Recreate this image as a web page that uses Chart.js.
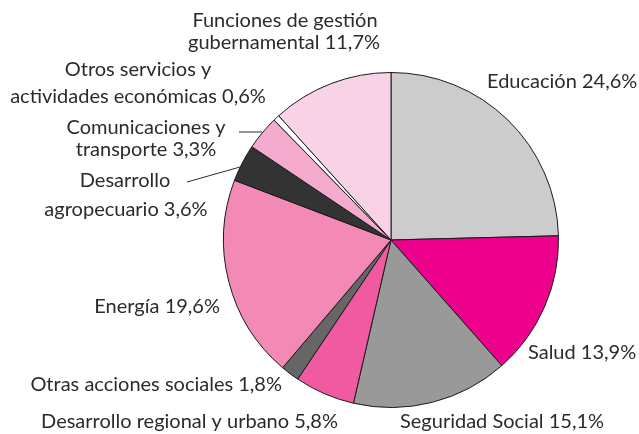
<!DOCTYPE html>
<html>
<head>
<meta charset="utf-8">
<script src="https://cdn.jsdelivr.net/npm/chart.js@4"></script>
<style>
  html, body { margin: 0; padding: 0; background: #fff; }
  #wrap { width: 639px; height: 434px; }
</style>
</head>
<body>
<div id="wrap"><canvas id="gastoPie"></canvas></div>
<script>
const categories = [
  "Educación",
  "Salud",
  "Seguridad Social",
  "Desarrollo regional y urbano",
  "Otras acciones sociales",
  "Energía",
  "Desarrollo agropecuario",
  "Comunicaciones y transporte",
  "Otros servicios y actividades económicas",
  "Funciones de gestión gubernamental"
];
const shares = [24.6, 13.9, 15.1, 5.8, 1.8, 19.6, 3.6, 3.3, 0.6, 11.7];
const sliceColors = [
  "#cccccc", "#ec008c", "#999999", "#ef5aa1", "#666666",
  "#f28ab5", "#333333", "#f4abcd", "#ffffff", "#f9d3e5"
];

// label lines: text, x, y, alignment
const labelLines = [
  [["Educación 24,6%", 487, 82, "left"]],
  [["Salud 13,9%", 528, 353, "left"]],
  [["Seguridad Social 15,1%", 400, 422, "left"]],
  [["Desarrollo regional y urbano 5,8%", 338, 422, "right"]],
  [["Otras acciones sociales 1,8%", 282, 385, "right"]],
  [["Energía 19,6%", 220, 307, "right"]],
  [["Desarrollo", 125, 181, "center"], ["agropecuario 3,6%", 126, 210, "center"]],
  [["Comunicaciones y", 146, 128, "center"], ["transporte 3,3%", 146, 150, "center"]],
  [["Otros servicios y", 138, 70, "center"], ["actividades económicas 0,6%", 138, 97, "center"]],
  [["Funciones de gestión", 285, 21, "center"], ["gubernamental 11,7%", 284, 43, "center"]]
];
const leaders = [
  [239, 132, 262, 132],
  [187, 182, 240, 167]
];

const labelPlugin = {
  id: "sliceLabels",
  afterDraw(chart) {
    const ctx = chart.ctx;
    ctx.save();
    ctx.font = "20px Lato";
    ctx.fillStyle = "#2b2b2b";
    ctx.textBaseline = "middle";
    labelLines.forEach(lines => {
      lines.forEach(l => {
        ctx.textAlign = l[3];
        ctx.fillText(l[0], l[1], l[2]);
      });
    });
    ctx.strokeStyle = "#2b2b2b";
    ctx.lineWidth = 1;
    leaders.forEach(s => {
      ctx.beginPath();
      ctx.moveTo(s[0], s[1]);
      ctx.lineTo(s[2], s[3]);
      ctx.stroke();
    });
    ctx.restore();
  }
};

new Chart(document.getElementById("gastoPie"), {
  type: "pie",
  data: {
    labels: categories,
    datasets: [{
      data: shares,
      backgroundColor: sliceColors,
      borderColor: "#1a1a1a",
      borderWidth: 1
    }]
  },
  options: {
    responsive: true,
    maintainAspectRatio: false,
    animation: false,
    layout: { padding: { top: 72, bottom: 26, left: 223, right: 80 } },
    plugins: {
      legend: { display: false },
      tooltip: { enabled: false }
    }
  },
  plugins: [labelPlugin]
});
</script>
</body>
</html>
